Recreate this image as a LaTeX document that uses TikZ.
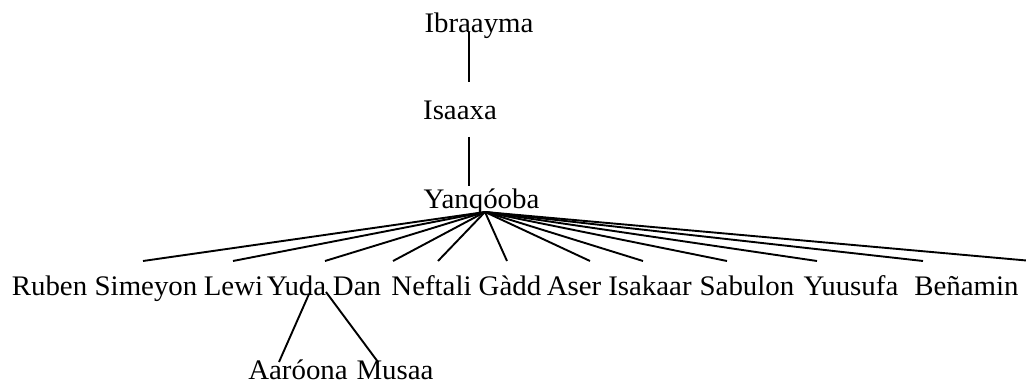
\documentclass[tikz,border=0pt]{standalone}
\usepackage{fontspec}
\setmainfont[FakeStretch=1.02]{Liberation Serif}
\begin{document}
\begin{tikzpicture}[x=1pt,y=-1pt,
  lbl/.style={anchor=base,inner sep=0pt,font=\fontsize{28.3}{30}\selectfont},
  edge/.style={draw=black,line width=1.9pt}]
\useasboundingbox (0,0) rectangle (1026,385);
% nodes
\node[lbl] (ibr) at (479,33) {Ibraayma};
\node[lbl] (isa) at (460,120) {Isaaxa};
\node[lbl] (yan) at (481.5,208) {Yanqóoba};
\node[lbl] (rub) at (49.5,295) {Ruben};
\node[lbl] (sim) at (146,295) {Simeyon};
\node[lbl] (lew) at (233.5,295) {Lewi};
\node[lbl] (yud) at (296.5,295) {Yuda};
\node[lbl] (dan) at (357,295) {Dan};
\node[lbl] (nef) at (431.5,295) {Neftali};
\node[lbl] (gad) at (510,295) {Gàdd};
\node[lbl] (ase) at (574,295) {Aser};
\node[lbl] (isk) at (650,295) {Isakaar};
\node[lbl] (sab) at (747,295) {Sabulon};
\node[lbl] (yuu) at (851,295) {Yuusufa};
\node[lbl] (ben) at (966.5,295) {Beñamin};
\node[lbl] (aar) at (298,379) {Aaróona};
\node[lbl] (mus) at (395,379) {Musaa};
% connector ends
\coordinate (ibr-b) at (469,32);
\coordinate (isa-t) at (469,82);
\coordinate (isa-b) at (469,137);
\coordinate (yan-t) at (469,186);
\coordinate (yan-b) at (485,212);
\coordinate (rub-t) at (143,261);
\coordinate (sim-t) at (233,261);
\coordinate (lew-t) at (325,261);
\coordinate (yud-t) at (393,261);
\coordinate (dan-t) at (438,261);
\coordinate (nef-t) at (507,261);
\coordinate (gad-t) at (590,261);
\coordinate (ase-t) at (643,261);
\coordinate (isk-t) at (727,261);
\coordinate (sab-t) at (817,261);
\coordinate (yuu-t) at (923,261);
\coordinate (ben-t) at (1032,261);
\coordinate (yud-b1) at (309,294);
\coordinate (yud-b2) at (326,292);
\coordinate (aar-t) at (279,362);
\coordinate (mus-t) at (378,362);
% connectors
\draw[edge] (ibr-b) -- (isa-t);
\draw[edge] (isa-b) -- (yan-t);
\foreach \c in {rub,sim,lew,yud,dan,nef,gad,ase,isk,sab,yuu,ben}
  \draw[edge] (yan-b) -- (\c-t);
\draw[edge] (yud-b1) -- (aar-t);
\draw[edge] (yud-b2) -- (mus-t);
\end{tikzpicture}
\end{document}
